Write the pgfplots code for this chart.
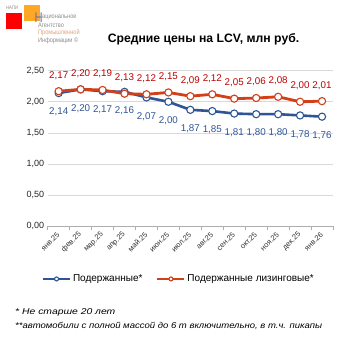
\documentclass[border=0pt]{standalone}
\usepackage{pgfplots}
\pgfplotsset{compat=1.18}
\usepackage{fontspec}
\setmainfont{Liberation Sans}
\definecolor{bl}{HTML}{2F5597}
\definecolor{rd}{HTML}{D2401A}
\definecolor{rdl}{HTML}{C00000}
\definecolor{gr}{HTML}{D9D9D9}
\definecolor{logogr}{HTML}{8C8C8C}
\definecolor{logoor}{HTML}{E8A070}
\begin{document}
\begin{tikzpicture}[x=1pt,y=1pt]
\path[fill=white] (0,0) rectangle (353,353);
% logo
\fill[red] (6,353-29) rectangle (22,353-13);
\fill[orange!80!yellow, opacity=0.85] (24,353-21) rectangle (40,353-5);
\node[anchor=west, inner sep=0, font=\fontsize{5}{5}\selectfont, text=logogr, xscale=0.85] at (6,353-8) {НАПИ};
\node[anchor=west, inner sep=0, font=\fontsize{14}{14}\selectfont, text=logogr!80!blue, xscale=0.8] at (34.5,353-18) {Н};
\node[anchor=west, inner sep=0, font=\fontsize{6.6}{7}\selectfont, text=logogr, xscale=0.85] at (42,353-17) {ациональное};
\node[anchor=west, inner sep=0, font=\fontsize{6.6}{7}\selectfont, text=logogr, xscale=0.85] at (38,353-25) {Агентство};
\node[anchor=west, inner sep=0, font=\fontsize{6.6}{7}\selectfont, text=logoor, xscale=0.85] at (38,353-33) {Промышленной};
\node[anchor=west, inner sep=0, font=\fontsize{6.6}{7}\selectfont, text=logogr, xscale=0.85] at (38,353-41) {Информации ©};
% title
\node[font=\bfseries\fontsize{12.2}{14}\selectfont] at (203.5,353-39) {Средние цены на LCV, млн руб.};
\begin{axis}[
  at={(47.7pt,127pt)}, anchor=south west,
  scale only axis, width=285.3pt, height=155.3pt,
  xmin=-0.5, xmax=12.5, ymin=0, ymax=2.5,
  ytick={0,0.5,...,2.5},
  yticklabel style={/pgf/number format/fixed, /pgf/number format/fixed zerofill, /pgf/number format/precision=2, /pgf/number format/use comma},
  /pgf/number format/assume math mode=true,
  ymajorgrids, grid style={gr, line width=0.6pt},
  axis y line*=left,
  y axis line style={draw=none},
  axis x line*=bottom,
  x axis line style={draw=gr!80!black, line width=0.6pt, -},
  xtick={0,...,12},
  xticklabels={янв.25,фев.25,мар.25,апр.25,май.25,июн.25,июл.25,авг.25,сен.25,окт.25,ноя.25,дек.25,янв.26},
  major x tick style={draw=none},
  minor xtick={-0.5,0.5,...,12.5},
  minor x tick style={draw=gr!80!black, line width=0.6pt},
  xtick align=outside, minor tick length=4pt,
  xticklabel style={rotate=45, anchor=east, font=\fontsize{7.5}{8}\selectfont, text=black!80, yshift=-2pt, xshift=1pt},
  yticklabel style={font=\fontsize{9}{10}\selectfont, text=black!85},
  ytick style={draw=none},
  legend style={at={(axis description cs:0.46,-0.341)}, anchor=center, draw=none, fill=none,
    legend columns=2, font=\fontsize{10}{11}\selectfont,
    /tikz/every even column/.append style={column sep=12pt}},
  legend image code/.code={\draw[mark repeat=2, mark phase=2, #1] plot coordinates {(0pt,0pt) (13.5pt,0pt) (27pt,0pt)};},
  legend cell align=left,
  nodes near coords,
  nodes near coords style={/pgf/number format/fixed, /pgf/number format/fixed zerofill, /pgf/number format/precision=2, /pgf/number format/use comma},
  clip=false,
]
\addplot[bl, line width=2.6pt, mark=*, mark size=3.6pt, mark options={fill=white, draw=bl, line width=1.1pt},
  legend image post style={line width=2pt, mark size=2pt},
  every node near coord/.append style={text=bl, font=\fontsize{9.8}{10}\selectfont, anchor=north, yshift=-11pt}]
 coordinates {(0,2.14)(1,2.20)(2,2.17)(3,2.16)(4,2.07)(5,2.00)(6,1.87)(7,1.85)(8,1.81)(9,1.80)(10,1.80)(11,1.78)(12,1.76)};
\addlegendentry{Подержанные*}
\addplot[rd, line width=2.8pt, mark=*, mark size=3.6pt, mark options={fill=white, draw=rd, line width=1.1pt},
  legend image post style={line width=2pt, mark size=2pt},
  every node near coord/.append style={text=rdl, font=\fontsize{9.8}{10}\selectfont, anchor=south, yshift=8pt}]
 coordinates {(0,2.17)(1,2.20)(2,2.19)(3,2.13)(4,2.12)(5,2.15)(6,2.09)(7,2.12)(8,2.05)(9,2.06)(10,2.08)(11,2.00)(12,2.01)};
\addlegendentry{Подержанные лизинговые*}
\end{axis}
\node[anchor=west, inner sep=0, font=\itshape\fontsize{8.5}{9}\selectfont, xscale=1.22] at (15,353-312) {* Не старше 20 лет};
\node[anchor=west, inner sep=0, font=\itshape\fontsize{8.5}{9}\selectfont, xscale=1.12] at (15,353-326) {**автомобили с полной массой до 6 т включительно, в т.ч. пикапы};
\end{tikzpicture}
\end{document}
